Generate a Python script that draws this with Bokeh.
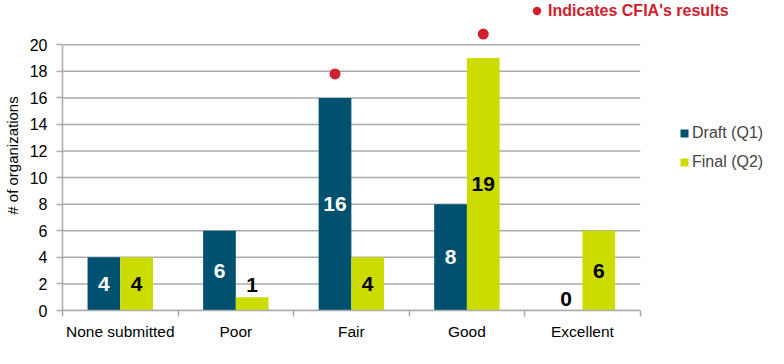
import numpy as np
from bokeh.plotting import figure
from bokeh.models import ColumnDataSource, Range1d, FixedTicker, Legend, LegendItem
from bokeh.embed import file_html
from bokeh.resources import INLINE

# ---- data ----
categories = ["None submitted", "Poor", "Fair", "Good", "Excellent"]
draft_q1 = [4, 6, 16, 8, 0]
final_q2 = [4, 1, 4, 19, 6]
# CFIA's results markers: category, series and marker height
cfia_category = ["Fair", "Good"]
cfia_series = ["draft", "final"]
cfia_marker_y = [17.8, 20.8]
y_ticks = [0, 2, 4, 6, 8, 10, 12, 14, 16, 18, 20]

FONT = "Liberation Sans"
DRAFT_COLOR = "#00506f"
FINAL_COLOR = "#cddc00"
RED = "#d0202e"
GRID = "#ababab"

n = len(categories)
BAR_W = 0.283
centers = np.arange(n) + 0.5
x_draft = centers - BAR_W / 2
x_final = centers + BAR_W / 2

# frame spans the legend area too; axes/grid are bounded to the data area
p = figure(width=768, height=348, output_backend="svg", toolbar_location=None,
           x_range=Range1d(0, n * 710 / 581), y_range=Range1d(0, 23.33),
           min_border_left=58, min_border_right=0, min_border_top=0, min_border_bottom=38)
p.outline_line_color = None
p.background_fill_color = "white"
p.border_fill_color = "white"

# horizontal gridlines limited to the category area
p.segment(x0=[0] * len(y_ticks), x1=[n] * len(y_ticks), y0=y_ticks, y1=y_ticks,
          line_color=GRID, line_width=1.5)

draft_src = ColumnDataSource(dict(x=x_draft, top=draft_q1))
final_src = ColumnDataSource(dict(x=x_final, top=final_q2))
r_draft = p.vbar(x="x", top="top", width=BAR_W, bottom=0, source=draft_src,
                 fill_color=DRAFT_COLOR, line_color=None)
r_final = p.vbar(x="x", top="top", width=BAR_W, bottom=0, source=final_src,
                 fill_color=FINAL_COLOR, line_color=None)

# value labels: centred in the bar, or just above it if the bar is too short
def add_labels(xs, vals, inside_color):
    inside = [i for i, v in enumerate(vals) if v >= 2]
    outside = [i for i, v in enumerate(vals) if v < 2]
    if inside:
        src = ColumnDataSource(dict(x=[xs[i] for i in inside], y=[vals[i] / 2 for i in inside],
                                    t=[str(vals[i]) for i in inside]))
        p.text(x="x", y="y", text="t", source=src, text_color=inside_color,
               text_align="center", text_baseline="middle",
               text_font_size="21px", text_font_style="bold")
    if outside:
        src = ColumnDataSource(dict(x=[xs[i] for i in outside], y=[vals[i] for i in outside],
                                    t=[str(vals[i]) for i in outside]))
        p.text(x="x", y="y", text="t", source=src, text_color="black",
               text_align="center", text_baseline="middle", y_offset=-12,
               text_font_size="21px", text_font_style="bold")

add_labels(list(x_draft), draft_q1, "white")
add_labels(list(x_final), final_q2, "black")

# CFIA markers
cat_idx = [categories.index(c) for c in cfia_category]
cfia_x = [x_draft[i] if s == "draft" else x_final[i] for i, s in zip(cat_idx, cfia_series)]
r_cfia = p.scatter(x=cfia_x, y=cfia_marker_y, size=11, marker="circle",
                   fill_color=RED, line_color=None)

# axes
p.yaxis.bounds = (0, max(y_ticks))
p.yaxis.ticker = FixedTicker(ticks=y_ticks)
p.yaxis.axis_line_color = GRID
p.yaxis.axis_line_width = 1.5
p.yaxis.major_tick_line_color = GRID
p.yaxis.major_tick_line_width = 1.5
p.yaxis.major_tick_out = 6
p.yaxis.major_tick_in = 0
p.yaxis.minor_tick_line_color = None
p.yaxis.major_label_standoff = 9
p.yaxis.major_label_text_font = FONT
p.yaxis.major_label_text_font_size = "16px"
p.yaxis.major_label_text_color = "black"
p.yaxis.axis_label = "# of organizations"
p.yaxis.axis_label_text_font = FONT
p.yaxis.axis_label_text_font_size = "15px"
p.yaxis.axis_label_text_font_style = "normal"
p.yaxis.axis_label_text_color = "black"
p.yaxis.axis_label_standoff = 6

p.xaxis.bounds = (0, n)
p.xaxis.ticker = FixedTicker(ticks=list(centers), minor_ticks=list(range(n + 1)))
p.xaxis.major_label_overrides = {float(c): name for c, name in zip(centers, categories)}
p.xaxis.axis_line_color = GRID
p.xaxis.axis_line_width = 1.5
p.xaxis.major_tick_line_color = None
p.xaxis.major_tick_out = 6
p.xaxis.minor_tick_line_color = GRID
p.xaxis.minor_tick_line_width = 1.5
p.xaxis.minor_tick_out = 6
p.xaxis.minor_tick_in = 0
p.xaxis.major_label_standoff = 6
p.xaxis.major_label_text_font = FONT
p.xaxis.major_label_text_font_size = "15.5px"
p.xaxis.major_label_text_color = "black"

p.xgrid.visible = False
p.ygrid.visible = False

# legends
leg = Legend(items=[LegendItem(label="Draft (Q1)", renderers=[r_draft]),
                    LegendItem(label="Final (Q2)", renderers=[r_final])],
             location=(617, 138), padding=0, margin=0, spacing=9,
             glyph_width=10, glyph_height=10, label_height=20, label_standoff=3,
             label_text_font=FONT, label_text_font_size="16px",
             border_line_color=None, background_fill_alpha=0)
p.add_layout(leg)

leg2 = Legend(items=[LegendItem(label="Indicates CFIA's results", renderers=[r_cfia])],
              location=(464, 289), padding=0, margin=0,
              glyph_width=21, glyph_height=21, label_height=21, label_standoff=1,
              label_text_font=FONT, label_text_font_size="16px",
              label_text_font_style="bold", label_text_color=RED,
              border_line_color=None, background_fill_alpha=0)
p.add_layout(leg2)

open("out.html", "w").write(file_html(p, INLINE))
